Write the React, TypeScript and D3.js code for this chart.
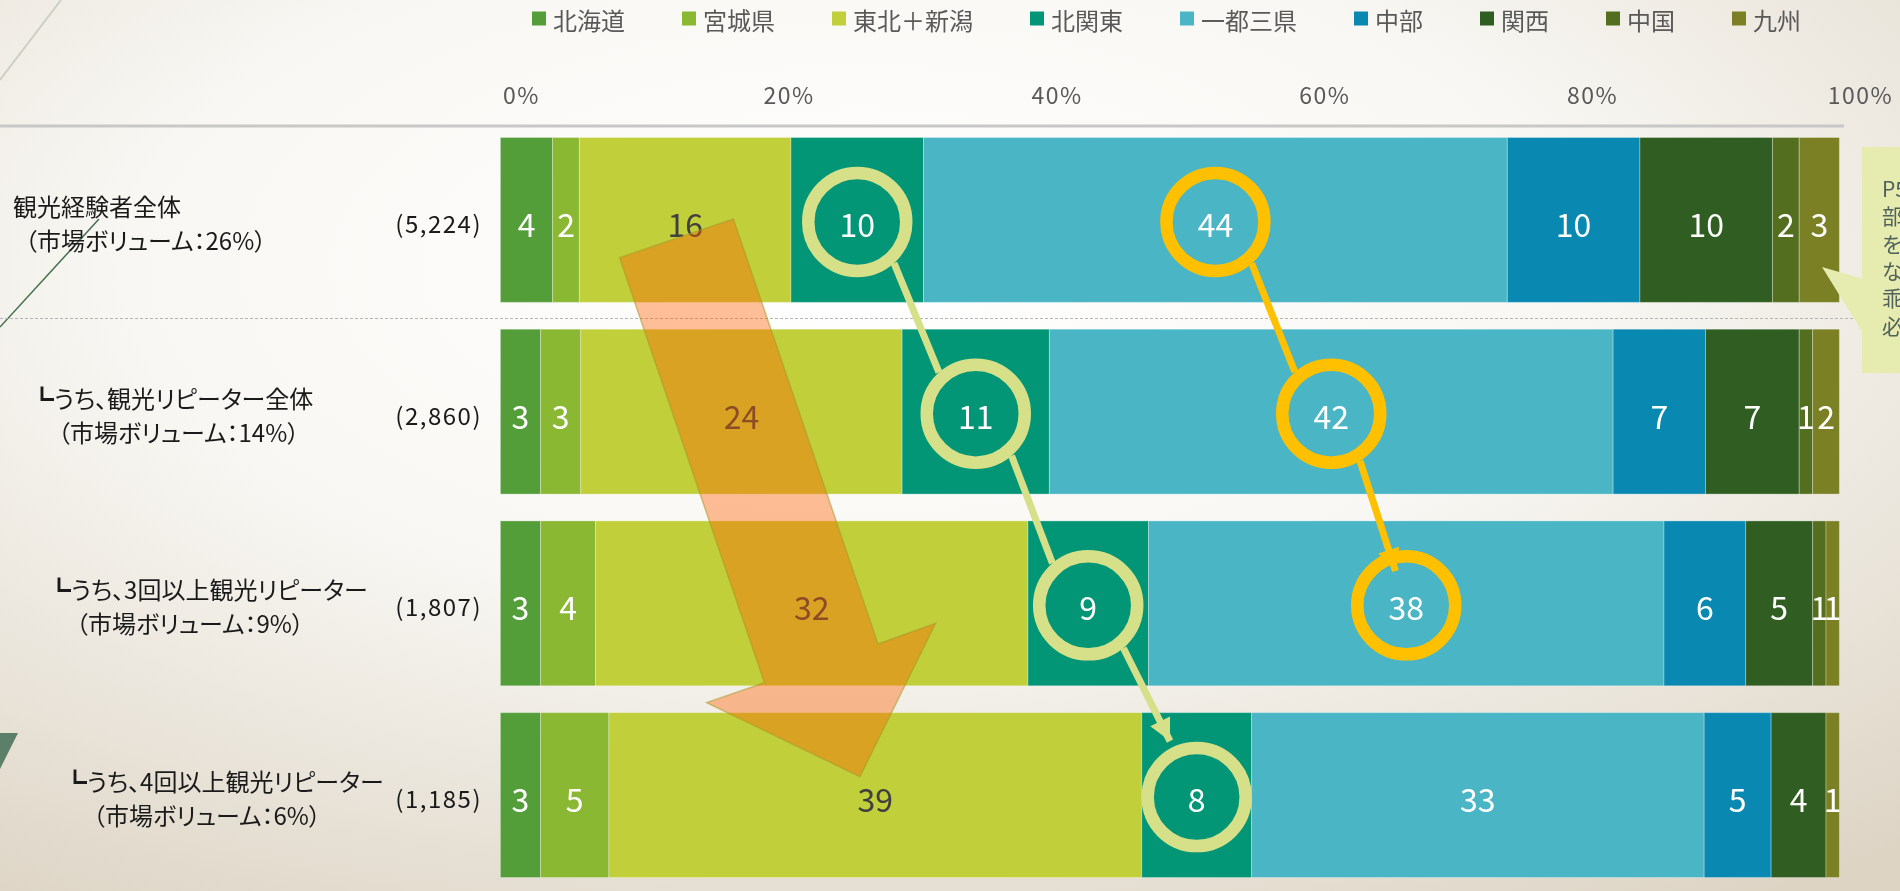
import React from 'react';
import * as d3 from 'd3';

// regions (stack order, left to right)
const regions = ['北海道', '宮城県', '東北＋新潟', '北関東', '一都三県', '中部', '関西', '中国', '九州'];
const regionColors = ['#549E39', '#8AB833', '#C0CF3A', '#029676', '#4AB5C4', '#0989B1', '#305E22', '#546E1F', '#7A8023'];

// groups (rows, top to bottom)
const groupTitles = ['観光経験者全体', '┗うち、観光リピーター全体', '┗うち、3回以上観光リピーター', '┗うち、4回以上観光リピーター'];
const groupVolumes = ['（市場ボリューム：26%）', '（市場ボリューム：14%）', '（市場ボリューム：9%）', '（市場ボリューム：6%）'];
const groupCounts = ['(5,224)', '(2,860)', '(1,807)', '(1,185)'];

// share (%) per region, one list per group
const sharesAll = [3.9, 2.0, 15.8, 9.9, 43.6, 9.9, 9.9, 2.0, 3.0];
const sharesRepeat = [3.0, 3.0, 24.0, 11.0, 42.1, 6.9, 7.0, 1.0, 2.0];
const sharesRepeat3 = [3.0, 4.1, 32.3, 9.0, 38.5, 6.1, 5.0, 1.0, 1.0];
const sharesRepeat4 = [3.0, 5.1, 39.8, 8.2, 33.8, 5.0, 4.1, 0.0, 1.0];
const shares = [sharesAll, sharesRepeat, sharesRepeat3, sharesRepeat4];

// printed (rounded) labels
const labelsAll = [4, 2, 16, 10, 44, 10, 10, 2, 3];
const labelsRepeat = [3, 3, 24, 11, 42, 7, 7, 1, 2];
const labelsRepeat3 = [3, 4, 32, 9, 38, 6, 5, 1, 1];
const labelsRepeat4 = [3, 5, 39, 8, 33, 5, 4, 0, 1];
const labels = [labelsAll, labelsRepeat, labelsRepeat3, labelsRepeat4];

const xTicks = [0, 20, 40, 60, 80, 100];

// highlighted regions traced across groups
const tracks = [
    { region: 3, groups: [0, 1, 2, 3], color: '#D6E089', endGap: 62 },
    { region: 4, groups: [0, 1, 2], color: '#FFC000', endGap: 36 },
];

// big shift arrow outline, in (percent, row position) units
const shiftArrow: [number, number][] = [
    [8.9, 0.197], [17.4, -0.005], [28.2, 2.212], [32.5, 2.104],
    [26.85, 2.904], [15.41, 2.518], [19.72, 2.414],
];

const calloutLines = ['P5', '部', 'を', 'な', '乖', '必'];

const W = 1900;
const H = 891;
const FONT = '"Noto Sans CJK JP", "Noto Sans", sans-serif';

const App: React.FC = () => {
    const x = d3.scaleLinear().domain([0, 100]).range([500.4, 1839.4]);
    const y = d3.scaleBand<number>().domain(d3.range(shares.length)).range([137.5, 877.5]).paddingInner(0.14);
    const bw = y.bandwidth();
    const step = y.step();
    const rowY = (r: number) => (y(0) as number) + bw / 2 + r * step;

    // stacked segments
    const stacked = shares.map(row => {
        const ends = Array.from(d3.cumsum(row));
        return row.map((v, j) => ({ x0: ends[j] - v, x1: ends[j], v, j }));
    });

    const titleX = [13, 30, 47, 63];
    const volumeX = [25, 58, 76, 93];

    // legend layout
    let lx = 532;
    const legendItems = regions.map((name, i) => {
        const item = { name, color: regionColors[i], x: lx };
        lx += 21 + name.length * 24 + 57;
        return item;
    });

    const ringR = 49;
    const ringW = 12.5;
    const rot = (v: [number, number], deg: number): [number, number] => {
        const a = (deg * Math.PI) / 180;
        return [v[0] * Math.cos(a) - v[1] * Math.sin(a), v[0] * Math.sin(a) + v[1] * Math.cos(a)];
    };

    const arrowPath = d3.line()(shiftArrow.map(([p, r]) => [x(p), rowY(r)] as [number, number])) + 'Z';

    return (
        <svg width={W} height={H} style={{ position: 'fixed', left: 0, top: 0, fontFamily: FONT }}>
            <defs>
                <radialGradient id="bg" cx="0.45" cy="0.3" r="0.85">
                    <stop offset="0" stopColor="#FFFFFF" />
                    <stop offset="0.45" stopColor="#F8F7F3" />
                    <stop offset="1" stopColor="#DDD4C4" />
                </radialGradient>
                {tracks.map((t, k) => (
                    <marker key={k} id={`head${k}`} viewBox="0 0 10 10" refX="10" refY="5"
                        markerUnits="userSpaceOnUse" markerWidth="24" markerHeight="22" orient="auto">
                        <path d="M0,0 L10,5 L0,10 z" fill={t.color} />
                    </marker>
                ))}
            </defs>

            <rect width={W} height={H} fill="url(#bg)" />

            {/* slide decoration */}
            <line x1={61} y1={0} x2={0} y2={80} stroke="#CDD0C3" strokeWidth={2} />
            <line x1={0} y1={327} x2={99} y2={219} stroke="#44704F" strokeWidth={1.5} />
            <polygon points="0,733 18,733 0,769" fill="#5C7F69" />

            {/* legend */}
            {legendItems.map(it => (
                <g key={it.name}>
                    <rect x={it.x} y={11.5} width={14} height={14} fill={it.color} />
                    <text x={it.x + 21} y={19} dominantBaseline="central" fontSize={24} fill="#595959">{it.name}</text>
                </g>
            ))}

            {/* top axis */}
            {xTicks.map(t => (
                <text key={t} x={x(t) + 21} y={104} textAnchor="middle" fontSize={23} letterSpacing={1.5} fill="#595959">
                    {t}%
                </text>
            ))}
            <line x1={0} x2={1844} y1={126} y2={126} stroke="#C8C8C8" strokeWidth={3} />

            {/* separator between total and repeaters */}
            <line x1={0} x2={W} y1={318.5} y2={318.5} stroke="#B4B4B4" strokeWidth={1.2} strokeDasharray="3 2" />

            {/* bars */}
            {stacked.map((row, i) => (
                <g key={i}>
                    {row.filter(s => s.v > 0).map(s => (
                        <rect key={s.j} x={x(s.x0)} y={y(i)} width={x(s.x1) - x(s.x0)} height={bw}
                            fill={regionColors[s.j]} stroke="rgba(255,255,255,0.3)" strokeWidth={1} />
                    ))}
                </g>
            ))}

            {/* data labels */}
            {stacked.map((row, i) => row.map(s => labels[i][s.j] > 0 && (
                <text key={`${i}-${s.j}`} x={x((s.x0 + s.x1) / 2)} y={(y(i) as number) + bw / 2 + 3}
                    textAnchor="middle" dominantBaseline="central" fontSize={32}
                    fill={s.j === 2 ? '#404040' : '#FFFFFF'}>
                    {labels[i][s.j]}
                </text>
            )))}

            {/* shift arrow */}
            <path d={arrowPath} fill="rgb(255,96,0)" fillOpacity={0.4} stroke="#A89A2A" strokeOpacity={0.55} strokeWidth={1.5} />

            {/* tracked regions: rings and connectors */}
            {tracks.map((t, k) => {
                const centers = t.groups.map(g => {
                    const s = stacked[g][t.region];
                    return [x((s.x0 + s.x1) / 2), (y(g) as number) + bw / 2 + 2] as [number, number];
                });
                const rOut = ringR + ringW / 2;
                return (
                    <g key={k}>
                        {centers.map((c, i) => (
                            <circle key={i} cx={c[0]} cy={c[1]} r={ringR} fill="none" stroke={t.color} strokeWidth={ringW} />
                        ))}
                        {centers.slice(1).map((c2, i) => {
                            const c1 = centers[i];
                            const len = Math.hypot(c2[0] - c1[0], c2[1] - c1[1]);
                            const d: [number, number] = [(c2[0] - c1[0]) / len, (c2[1] - c1[1]) / len];
                            const last = i === centers.length - 2;
                            const ds = rot(d, -10);
                            const de = last ? rot(d, 4) : rot(d, -10);
                            const gap = last ? t.endGap : rOut;
                            return (
                                <line key={i}
                                    x1={c1[0] + ds[0] * rOut} y1={c1[1] + ds[1] * rOut}
                                    x2={c2[0] - de[0] * gap} y2={c2[1] - de[1] * gap}
                                    stroke={t.color} strokeWidth={7}
                                    markerEnd={last ? `url(#head${k})` : undefined} />
                            );
                        })}
                    </g>
                );
            })}

            {/* callout on the right */}
            <rect x={1862} y={147} width={60} height={226} fill="#E6EBAF" />
            <polygon points="1863,279 1822,267 1863,333" fill="#E6EBAF" />
            {calloutLines.map((s, i) => (
                <text key={i} x={1882} y={197 + i * 27.3} fontSize={21} fill="#4F625C">{s}</text>
            ))}

            {/* group labels */}
            {groupTitles.map((title, i) => {
                const c = (y(i) as number) + bw / 2;
                return (
                    <g key={i} fill="#1A1A1A" fontSize={24} style={{ fontFeatureSettings: '"palt"' }}>
                        <text x={titleX[i]} y={c - 4}>{title}</text>
                        <text x={volumeX[i]} y={c + 30}>{groupVolumes[i]}</text>
                        <text x={482} y={c + 13} textAnchor="end" letterSpacing={1.5}>{groupCounts[i]}</text>
                    </g>
                );
            })}
        </svg>
    );
};

export default App;
